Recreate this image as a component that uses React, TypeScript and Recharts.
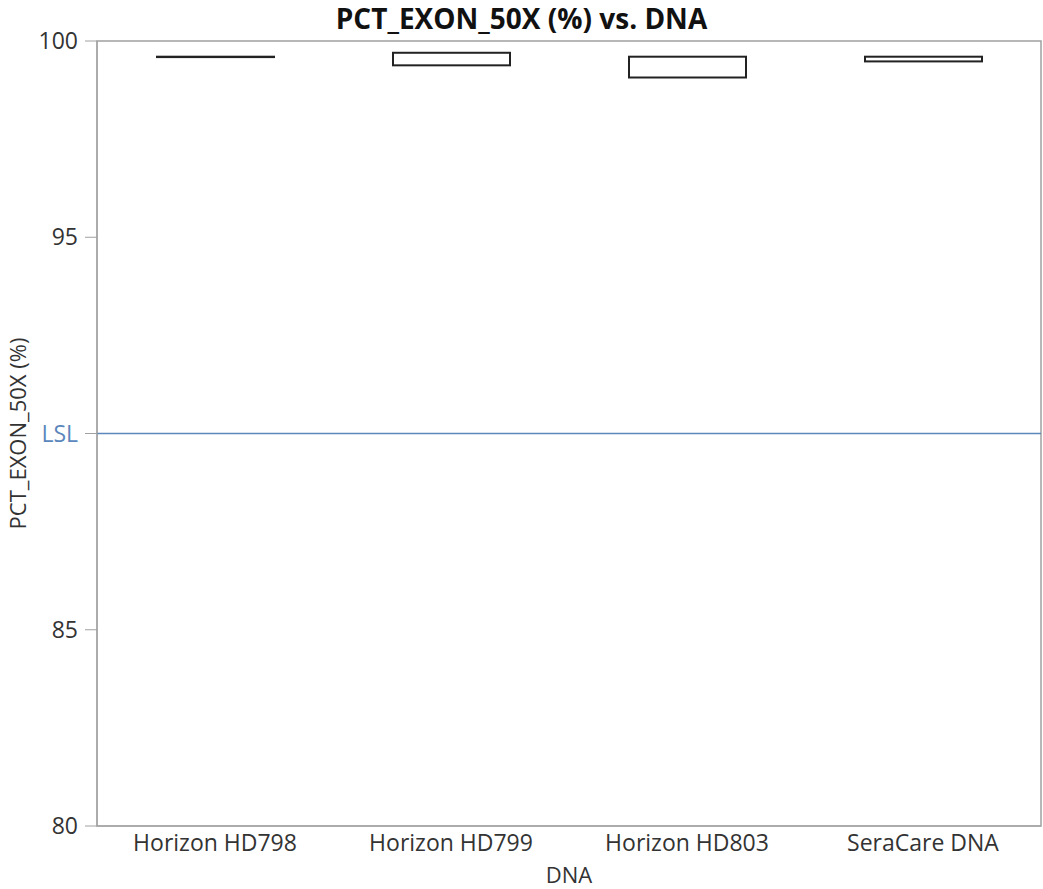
import React from "react";
import { ComposedChart, Bar, XAxis, YAxis, ReferenceLine, ReferenceArea } from "recharts";

const categories = ["Horizon HD798", "Horizon HD799", "Horizon HD803", "SeraCare DNA"];
const lowValues = [99.59, 99.38, 99.07, 99.48];
const highValues = [99.6, 99.7, 99.6, 99.6];
const yTicks = [80, 85, 90, 95, 100];
const lslValue = 90;

const data = categories.map((c, i) => ({ name: c, range: [lowValues[i], highValues[i]] }));

const FONT = "'Open Sans', 'Noto Sans', sans-serif";
const GRAY = "#a0a0a0";
const BLUE = "#5b87bd";
const TEXT = "#333";

const BoxShape = (props: any) => {
  const { x, y, width, height } = props;
  const h = Math.max(Math.abs(height), 0);
  const top = height < 0 ? y + height : y;
  return (
    <rect x={x} y={top} width={width} height={h} fill="#ffffff" stroke="#222" strokeWidth={2} />
  );
};

const YTick = (props: any) => {
  const { x, y, payload } = props;
  const isLsl = payload.value === lslValue;
  return (
    <text x={x} y={y} dy={8} textAnchor="end" fontFamily={FONT} fontSize={23}
      fill={isLsl ? BLUE : TEXT}>
      {isLsl ? "LSL" : payload.value}
    </text>
  );
};

export default function App() {
  return (
    <div style={{ position: "absolute", left: 0, top: 0, width: 1043, height: 889, background: "#fff", overflow: "hidden" }}>
      <div style={{ position: "absolute", left: 0, top: 0, width: 1043, height: 36, lineHeight: "36px", textAlign: "center", fontFamily: FONT, fontWeight: 700, fontSize: 28, color: "#111" }}>
        PCT_EXON_50X (%) vs. DNA
      </div>
      <ComposedChart width={1043} height={889} data={data}
        margin={{ top: 41, right: 2, bottom: 0, left: 0 }}>
        <XAxis dataKey="name" tickLine={false} axisLine={{ stroke: GRAY }} height={63}
          tick={{ fontFamily: FONT, fontSize: 23, fill: TEXT }} tickMargin={3}
          label={{ value: "DNA", position: "insideBottom", offset: 6, fontFamily: FONT, fontSize: 22, fill: TEXT }} />
        <YAxis domain={[80, 100]} ticks={yTicks} width={97} tickSize={12} tickMargin={7}
          axisLine={{ stroke: GRAY }} tickLine={{ stroke: GRAY }} tick={<YTick />}
          label={{ value: "PCT_EXON_50X (%)", angle: -90, position: "insideLeft", offset: 18, fontFamily: FONT, fontSize: 22, fill: TEXT, style: { textAnchor: "middle" } }} />
        <ReferenceArea y1={80} y2={100} fill="none" stroke={GRAY} strokeWidth={1.5} ifOverflow="visible" />
        <ReferenceLine y={lslValue} stroke={BLUE} strokeWidth={1.5} />
        <Bar dataKey="range" barSize={117} shape={<BoxShape />} isAnimationActive={false} />
      </ComposedChart>
    </div>
  );
}
